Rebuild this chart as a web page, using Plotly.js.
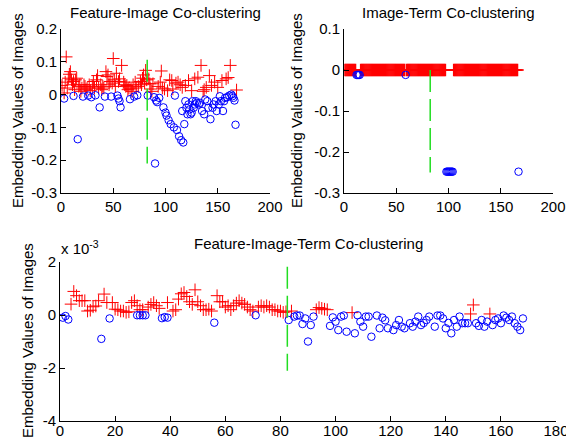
<!DOCTYPE html>
<html>
<head>
<meta charset="utf-8">
<script src="https://cdn.plot.ly/plotly-3.0.1.min.js"></script>
<style>html,body{margin:0;padding:0;background:#fff;}#chart{width:566px;height:442px;}</style>
</head>
<body>
<div id="chart"></div>
<script>
// ---------- Feature-Image Co-clustering (top-left) ----------
var fiRedX = [1,3,4,5,6,7,8,9,10,11,12,13,14,15,17,18,19,20,22,23,24,25,27,28,30,31,32,34,35,36,38,39,40,41,43,44,45,46,47,49,50,51,52,53,55,56,58,60,61,62,63,64,65,67,68,69,71,72,74,76,77,78,79,80,81,82,84,85,86,87,88,93,95,96,97,99,102,104,106,107,110,112,114,116,119,122,125,128,131,134,136,137,139,142,144,147,150,154,158,160,162,168];
var fiRedY = [0.028,0.005,0.038,0.115,0.02,0.05,0.062,0.07,0.045,0.03,0.04,0.015,0.045,0.05,0.025,0.03,0.01,0.02,0.03,0.025,0.015,0.02,0.03,0.012,0.025,0.04,0.02,0.045,0.058,0.02,0.03,0.015,0.025,0.02,0.07,0.055,0.06,0.03,0.04,0.035,0.11,0.045,0.025,0.065,0.04,0.048,0.089,0.038,0.03,0.025,0.028,0.015,0.02,0.017,0.01,0.03,0.038,0.02,0.025,0.04,0.03,0.05,0.06,0.035,0.074,0.045,0.048,0.033,0.017,0.01,0.033,0.025,0.038,0.072,0.02,0.017,0.012,0.045,0.043,0.017,0.035,0.038,0.03,0.022,0.028,0.043,0.012,0.048,0.053,0.089,0.01,0.015,0.022,0.058,0.028,0.038,0.022,0.043,0.048,0.052,0.089,0.014];
var fiBlueX = [3,12,16,21,26,29,33,37,42,48,54,55,56,57,66,70,73,83,89,90,91,92,94,98,100,101,103,105,108,109,111,113,115,117,116,118,119,120,121,122,123,124,125,126,127,128,129,130,132,133,135,137,138,140,141,143,145,146,148,149,151,152,153,155,156,157,159,161,163,164,165,166,167];
var fiBlueY = [-0.012,-0.004,-0.136,-0.006,-0.003,-0.008,-0.002,-0.039,-0.006,-0.006,-0.003,-0.012,-0.02,-0.039,-0.014,-0.006,-0.002,-0.003,-0.008,-0.21,-0.018,-0.023,-0.01,-0.039,-0.055,-0.064,-0.078,-0.09,-0.1,-0.003,-0.108,-0.127,-0.139,-0.146,-0.05,-0.09,-0.02,-0.04,-0.06,-0.03,-0.045,-0.06,-0.055,-0.02,-0.04,-0.03,-0.02,-0.025,-0.03,-0.025,-0.05,-0.06,-0.015,-0.02,-0.04,-0.075,-0.04,-0.03,-0.02,-0.05,-0.03,-0.005,-0.02,-0.05,-0.02,-0.01,-0.008,-0.003,0.0,-0.005,-0.01,-0.018,-0.092];
var fiDivX = [82.5, 82.5];
var fiDivY = [0.106, -0.21];

// ---------- Image-Term Co-clustering (top-right) ----------
var itRedX = [1,2,3,4,5,6,7,8,9,10,11,
  16,17,18,19,20,21,22,23,24,25,26,27,28,29,30,31,32,33,34,35,36,37,38,39,40,41,42,43,44,45,46,47,48,49,50,51,52,53,54,55,56,57,58,
  60,61,62,63,64,65,66,67,68,69,70,71,72,73,74,75,76,77,78,79,80,81,82,83,84,85,86,87,88,89,90,91,92,93,94,95,96,97,
  105,106,107,108,109,110,111,112,113,114,115,116,117,118,119,120,121,122,123,124,125,126,127,128,129,130,131,132,133,134,135,136,137,138,139,140,141,142,143,144,145,146,147,148,149,150,151,152,153,154,155,156,157,158,159,160,161,162,163,164,165,166];
var itRedY = [0,0,0,0,0,0,0,0,0,0,0,
  0,0,0,0,0,0,0,0,0,0,0,0,0,0,0,0,0,0,0,0,0,0,0,0,0,0,0,0,0,0,0,0,0,0,0,0,0,0,0,0,0,0,0,
  0,0,0,0,0,0,0,0,0,0,0,0,0,0,0,0,0,0,0,0,0,0,0,0,0,0,0,0,0,0,0,0,0,0,0,0,0,0,
  0,0,0,0,0,0,0,0,0,0,0,0,0,0,0,0,0,0,0,0,0,0,0,0,0,0,0,0,0,0,0,0,0,0,0,0,0,0,0,0,0,0,0,0,0,0,0,0,0,0,0,0,0,0,0,0,0,0,0,0,0,0];
var itBlueX = [12,13,14,15,59,98,99,100,101,102,103,104,167];
var itBlueY = [-0.012,-0.012,-0.012,-0.012,-0.012,-0.248,-0.248,-0.248,-0.248,-0.248,-0.248,-0.248,-0.248];
var itDivX = [82.5, 82.5];
var itDivY = [0, -0.25];

// ---------- Feature-Image-Term Co-clustering (bottom), values in units of 10^-3 ----------
var fitRedX = [4,5,6,7,8,9,10,11,12,13,14,16,17,19,20,21,22,23,24,25,26,27,28,29,30,32,33,34,35,36,39,41,42,43,44,45,46,47,48,49,50,51,52,53,54,55,57,58,59,60,61,62,63,64,65,66,67,68,69,70,72,73,74,75,76,77,78,79,80,81,82,84,93,94,95,96,97,106,149,150,156];
var fitRedY = [0.41,0.89,0.73,0.54,0.54,0.54,0.15,0.18,0.31,0.34,0.54,0.79,0.47,0.47,0.22,0.2,0.15,0.15,0.1,0.12,0.47,0.54,0.35,0.2,0.2,0.3,0.4,0.47,0.35,0.25,0.47,0.15,0.2,0.6,0.8,0.85,0.7,0.5,0.4,0.95,0.5,0.35,0.2,0.2,0.22,0.15,0.73,0.5,0.5,0.3,0.35,0.2,0.35,0.45,0.54,0.45,0.4,0.3,0.2,0.15,0.3,0.35,0.3,0.35,0.3,0.2,0.2,0.15,0.15,0.1,0.12,0.15,0.2,0.28,0.25,0.22,0.2,0.09,0.04,0.38,0.04];
var fitBlueX = [1,2,3,15,18,28,29,30,31,37,38,39,56,71,83,85,86,87,88,89,90,91,92,98,99,100,101,102,103,104,107,108,109,110,111,112,113,115,116,117,118,119,121,122,123,124,125,127,128,129,130,131,132,133,134,136,137,138,139,140,141,142,143,144,145,146,147,148,151,152,153,154,155,157,158,159,160,161,162,163,164,165,166,167,168];
var fitBlueY = [-0.1,-0.04,-0.17,-0.9,-0.13,-0.01,-0.01,-0.01,-0.01,-0.12,-0.08,-0.1,-0.29,-0.01,-0.19,-0.06,-0.02,-0.02,-0.34,-0.13,-1.0,-0.38,-0.06,-0.41,-0.09,-0.25,-0.57,-0.06,-0.02,-0.63,-0.69,-0.01,-0.25,-0.44,-0.06,-0.06,-0.82,-0.02,-0.5,-0.1,-0.2,-0.5,-0.57,-0.38,-0.19,-0.44,-0.5,-0.31,-0.44,-0.25,-0.06,-0.38,-0.3,-0.19,-0.06,-0.44,-0.02,-0.02,-0.13,-0.5,-0.3,-0.69,-0.19,-0.44,-0.06,-0.31,-0.31,-0.31,-0.31,-0.41,-0.19,-0.44,-0.25,-0.38,-0.19,-0.13,-0.31,-0.02,-0.1,-0.19,-0.06,-0.31,-0.44,-0.57,-0.13];
var fitDivX = [82.5, 82.5];
var fitDivY = [1.82, -2.1];

// ---------- Tick labels ----------
var topXTicks = [0,50,100,150,200];
var topXText = ["0","50","100","150","200"];
var fiYTicks = [-0.3,-0.2,-0.1,0,0.1,0.2];
var fiYText = ["-0.3","-0.2","-0.1","0","0.1","0.2"];
var itYTicks = [-0.3,-0.2,-0.1,0,0.1];
var itYText = ["-0.3","-0.2","-0.1","0","0.1"];
var botXTicks = [0,20,40,60,80,100,120,140,160,180];
var botXText = ["0","20","40","60","80","100","120","140","160","180"];
var botYTicks = [-4,-2,0,2];
var botYText = ["-4","-2","0","2"];

var titles = ["Feature-Image Co-clustering","Image-Term Co-clustering","Feature-Image-Term Co-clustering"];
var yLabel = "Embedding Values of Images";

var FONT = "Liberation Sans, Arial, Helvetica, sans-serif";
var W = 566, H = 442;
function px(x){ return x / W; }
function py(y){ return 1 - y / H; }

var redM = {symbol:"cross-thin-open", size:9, color:"#ff0000", line:{color:"#ff0000", width:1}};
var redDense = {symbol:"cross-thin-open", size:9, color:"#ff0000", line:{color:"#ff0000", width:1.6}};
var blueM = {symbol:"circle-open", size:7.5, color:"#0000ff", line:{color:"#0000ff", width:1}};
var divL = {color:"#22dd22", width:1.5, dash:"22px,7px"};

function sets(xa, ya, rx, ry, rm, bx, by, dx, dy){
  return [
    {type:"scatter", mode:"markers", x:rx, y:ry, xaxis:xa, yaxis:ya, marker:rm, hoverinfo:"skip"},
    {type:"scatter", mode:"markers", x:bx, y:by, xaxis:xa, yaxis:ya, marker:blueM, hoverinfo:"skip"},
    {type:"scatter", mode:"lines", x:dx, y:dy, xaxis:xa, yaxis:ya, line:divL, hoverinfo:"skip"}
  ];
}
var data = [].concat(
  sets("x","y", fiRedX, fiRedY, redM, fiBlueX, fiBlueY, fiDivX, fiDivY),
  sets("x2","y2", itRedX, itRedY, redDense, itBlueX, itBlueY, itDivX, itDivY),
  sets("x3","y3", fitRedX, fitRedY, redM, fitBlueX, fitBlueY, fitDivX, fitDivY)
);

function ax(domain, range, tv, tt, anchor, extra){
  var a = {domain:domain, range:range, tickmode:"array", tickvals:tv, ticktext:tt, anchor:anchor,
    showline:true, linecolor:"#000", linewidth:1, ticks:"inside", ticklen:5, tickcolor:"#000", tickwidth:1,
    showgrid:false, zeroline:false, mirror:false, fixedrange:true, ticklabeloverflow:"allow",
    tickfont:{family:FONT, size:15, color:"#000"}};
  if (extra) for (var k in extra) a[k] = extra[k];
  return a;
}

var layout = {
  width:W, height:H, margin:{l:0,r:0,t:0,b:0}, paper_bgcolor:"#fff", plot_bgcolor:"#fff",
  showlegend:false, font:{family:FONT, size:15, color:"#000"},
  xaxis: ax([px(61), px(270)], [0,200], topXTicks, topXText, "y"),
  yaxis: ax([py(193), py(29)], [-0.3,0.2], fiYTicks, fiYText, "x"),
  xaxis2: ax([px(344), px(553)], [0,200], topXTicks, topXText, "y2"),
  yaxis2: ax([py(193), py(29)], [-0.3,0.1], itYTicks, itYText, "x2"),
  xaxis3: ax([px(60), px(556)], [0,180], botXTicks, botXText, "y3", {ticklabelstandoff:-4}),
  yaxis3: ax([py(421), py(262)], [-4,2], botYTicks, botYText, "x3"),
  annotations: [
    {text:titles[0], xref:"paper", yref:"paper", x:px(165.5), y:py(12), xanchor:"center", yanchor:"middle", showarrow:false, font:{family:FONT,size:15,color:"#000"}},
    {text:titles[1], xref:"paper", yref:"paper", x:px(448.5), y:py(12), xanchor:"center", yanchor:"middle", showarrow:false, font:{family:FONT,size:15,color:"#000"}},
    {text:titles[2], xref:"paper", yref:"paper", x:px(308), y:py(243), xanchor:"center", yanchor:"middle", showarrow:false, font:{family:FONT,size:15,color:"#000"}},
    {text:yLabel, xref:"paper", yref:"paper", x:px(17), y:py(111), xanchor:"center", yanchor:"middle", textangle:-90, showarrow:false, font:{family:FONT,size:15,color:"#000"}},
    {text:yLabel, xref:"paper", yref:"paper", x:px(296), y:py(111), xanchor:"center", yanchor:"middle", textangle:-90, showarrow:false, font:{family:FONT,size:15,color:"#000"}},
    {text:yLabel, xref:"paper", yref:"paper", x:px(27), y:py(341), xanchor:"center", yanchor:"middle", textangle:-90, showarrow:false, font:{family:FONT,size:15,color:"#000"}},
    {text:"x 10<sup>-3</sup>", xref:"paper", yref:"paper", x:px(59), y:py(259), xanchor:"left", yanchor:"bottom", showarrow:false, font:{family:FONT,size:15,color:"#000"}}
  ]
};

Plotly.newPlot("chart", data, layout, {displayModeBar:false, staticPlot:true});
</script>
</body>
</html>
